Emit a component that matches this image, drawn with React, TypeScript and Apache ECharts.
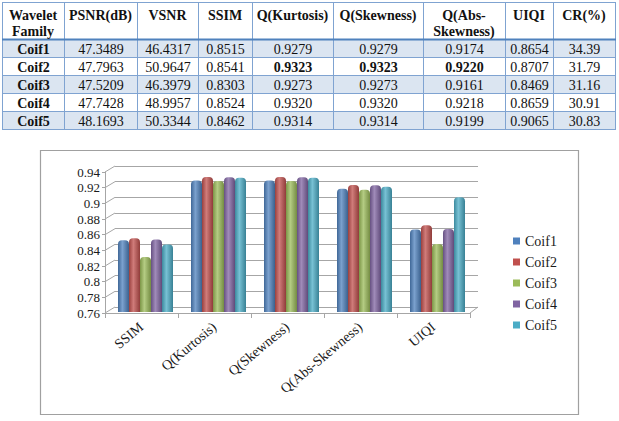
import React, { useEffect, useRef } from 'react';
import * as echarts from 'echarts';

// ---------- data ----------
const categories = ['SSIM', 'Q(Kurtosis)', 'Q(Skewness)', 'Q(Abs-Skewness)', 'UIQI'];
const coifNames = ['Coif1', 'Coif2', 'Coif3', 'Coif4', 'Coif5'];
const psnr = [47.3489, 47.7963, 47.5209, 47.7428, 48.1693];
const vsnr = [46.4317, 50.9647, 46.3979, 48.9957, 50.3344];
const ssim = [0.8515, 0.8541, 0.8303, 0.8524, 0.8462];
const qKurtosis = [0.9279, 0.9323, 0.9273, 0.932, 0.9314];
const qSkewness = [0.9279, 0.9323, 0.9273, 0.932, 0.9314];
const qAbsSkewness = [0.9174, 0.922, 0.9161, 0.9218, 0.9199];
const uiqi = [0.8654, 0.8707, 0.8469, 0.8659, 0.9065];
const cr = [34.39, 31.79, 31.16, 30.91, 30.83];
const tableHeaders = ['Wavelet\nFamily', 'PSNR(dB)', 'VSNR', 'SSIM', 'Q(Kurtosis)', 'Q(Skewness)', 'Q(Abs-\nSkewness)', 'UIQI', 'CR(%)'];
const boldCells = [[1, 4], [1, 5], [1, 6]]; // [row, col]
const yMin = 0.76;
const yMax = 0.94;
const yStep = 0.02;
const yTicks = [0.76, 0.78, 0.8, 0.82, 0.84, 0.86, 0.88, 0.9, 0.92, 0.94];

// ---------- styles ----------
const colors = ['#4f81bd', '#c0504d', '#9bbb59', '#8064a2', '#4bacc6'];
const SERIF = 'Liberation Serif';
const colX = [2, 64, 137, 198, 252, 333, 423, 505, 553, 615];
const rowY = [2, 39, 57, 75, 93, 111, 129];

function mix(hex: string, target: number, t: number) {
  const n = parseInt(hex.slice(1), 16);
  const r = (n >> 16) & 255, g = (n >> 8) & 255, b = n & 255;
  const f = (c: number) => Math.round(c + (target - c) * t);
  return `rgb(${f(r)},${f(g)},${f(b)})`;
}

function barGradient(hex: string) {
  return new echarts.graphic.LinearGradient(0, 0, 1, 0, [
    { offset: 0, color: mix(hex, 0, 0.2) },
    { offset: 0.4, color: mix(hex, 255, 0.25) },
    { offset: 1, color: mix(hex, 0, 0.25) },
  ]);
}

function textStyle(text: string, size: number, bold: boolean, align: string, vAlign: string) {
  return {
    text, fill: '#111', fontFamily: SERIF, fontSize: size,
    ...(bold ? { fontWeight: 'bold' } : {}),
    textAlign: align, textVerticalAlign: vAlign, align, verticalAlign: vAlign,
  };
}

function buildTable() {
  const els: any[] = [];
  const columns = [
    coifNames,
    psnr.map((v) => v.toFixed(4)),
    vsnr.map((v) => v.toFixed(4)),
    ssim.map((v) => v.toFixed(4)),
    qKurtosis.map((v) => v.toFixed(4)),
    qSkewness.map((v) => v.toFixed(4)),
    qAbsSkewness.map((v) => v.toFixed(4)),
    uiqi.map((v) => v.toFixed(4)),
    cr.map((v) => v.toFixed(2)),
  ];
  for (let r = 0; r < coifNames.length; r++) {
    els.push({
      type: 'rect', silent: true,
      shape: { x: colX[0], y: rowY[r + 1], width: colX[colX.length - 1] - colX[0], height: rowY[r + 2] - rowY[r + 1] },
      style: { fill: r % 2 === 0 ? '#dbe5f1' : '#ffffff' },
    });
  }
  for (let i = 0; i < colX.length; i++) {
    els.push({
      type: 'line', silent: true,
      shape: { x1: colX[i] + 0.5, y1: rowY[0], x2: colX[i] + 0.5, y2: rowY[rowY.length - 1] },
      style: { stroke: '#7fa3d1', lineWidth: 1 },
    });
  }
  for (let j = 0; j < rowY.length; j++) {
    els.push({
      type: 'line', silent: true,
      shape: { x1: colX[0], y1: rowY[j] + 0.5, x2: colX[colX.length - 1] + 1, y2: rowY[j] + 0.5 },
      style: { stroke: j === 1 ? '#4f81bd' : '#7fa3d1', lineWidth: j === 1 ? 2 : 1 },
    });
  }
  tableHeaders.forEach((h, c) => {
    els.push({
      type: 'text', silent: true,
      x: (colX[c] + colX[c + 1]) / 2, y: 7,
      style: { ...textStyle(h, 14, true, 'center', 'top'), lineHeight: 16 },
    });
  });
  columns.forEach((col, c) => {
    col.forEach((txt, r) => {
      const bold = c === 0 || boldCells.some(([br, bc]) => br === r && bc === c);
      els.push({
        type: 'text', silent: true,
        x: (colX[c] + colX[c + 1]) / 2 + 0.5, y: (rowY[r + 1] + rowY[r + 2]) / 2 + 1,
        style: textStyle(txt, 14, bold, 'center', 'middle'),
      });
    });
  });
  return els;
}

export default function App() {
  const ref = useRef<HTMLDivElement>(null);
  useEffect(() => {
    if (!ref.current) return;
    const chart = echarts.init(ref.current, undefined, { renderer: 'svg' });
    const perCoif = coifNames.map((_, i) => [ssim[i], qKurtosis[i], qSkewness[i], qAbsSkewness[i], uiqi[i]]);
    const gridLine = '#a6a6a6';
    const option: any = {
      animation: false,
      backgroundColor: '#ffffff',
      textStyle: { fontFamily: SERIF },
      graphic: [
        {
          type: 'rect', silent: true, z: -10,
          shape: { x: 40.5, y: 150.5, width: 538, height: 264 },
          style: { fill: '#ffffff', stroke: '#a0a0a0', lineWidth: 1.2 },
        },
        ...buildTable(),
      ],
      grid: [
        { left: 105, top: 172, width: 365, height: 141 },
        { left: 115, top: 166, width: 363, height: 141 },
        { left: 109, top: 171, width: 365, height: 141 },
      ],
      legend: {
        orient: 'vertical', left: 508, top: 228,
        itemWidth: 7, itemHeight: 7, itemGap: 5, icon: 'rect',
        textStyle: { fontFamily: SERIF, fontSize: 14, lineHeight: 16, color: '#1a1a1a' },
        data: coifNames.map((n, i) => ({ name: n, itemStyle: { color: colors[i] } })),
      },
      xAxis: [
        {
          gridIndex: 0, type: 'category', data: categories, boundaryGap: true,
          axisLine: { show: true, lineStyle: { color: gridLine } },
          axisTick: { show: true, length: 5, alignWithLabel: false, lineStyle: { color: gridLine } },
          axisLabel: { rotate: 40, margin: 12, interval: 0, fontFamily: SERIF, fontSize: 14, color: '#1a1a1a' },
        },
        { gridIndex: 1, type: 'category', data: categories, show: false },
        { gridIndex: 2, type: 'category', data: categories, show: false },
      ],
      yAxis: [
        {
          gridIndex: 0, type: 'value', min: yMin, max: yMax, interval: yStep,
          axisLine: { show: true, lineStyle: { color: gridLine } },
          axisTick: { show: true, length: 3, lineStyle: { color: gridLine } },
          splitLine: { show: false },
          axisLabel: {
            margin: 5, fontFamily: SERIF, fontSize: 13, color: '#1a1a1a',
            formatter: (v: number) => String(parseFloat(v.toFixed(2))),
          },
        },
        {
          gridIndex: 1, type: 'value', min: yMin, max: yMax, interval: yStep,
          axisLine: { show: false }, axisTick: { show: false }, axisLabel: { show: false },
          splitLine: { show: true, lineStyle: { color: gridLine, width: 1 } },
        },
        { gridIndex: 2, type: 'value', min: yMin, max: yMax, interval: yStep, show: false, splitLine: { show: false } },
      ],
      series: [
        {
          type: 'custom', name: 'walls', xAxisIndex: 0, yAxisIndex: 0, silent: true,
          data: yTicks.map((v) => [0, v]),
          encode: { x: 0, y: 1 },
          renderItem: (params: any, api: any) => {
            const cs = params.coordSys;
            const y = api.coord([0, api.value(1)])[1];
            const children: any[] = [
              { type: 'line', shape: { x1: cs.x, y1: y, x2: cs.x + 10, y2: y - 6 }, style: { stroke: gridLine, lineWidth: 1 } },
            ];
            if (params.dataIndex === 0) {
              children.push({
                type: 'line',
                shape: { x1: cs.x + cs.width, y1: y, x2: cs.x + cs.width + 8, y2: y - 6 },
                style: { stroke: gridLine, lineWidth: 1 },
              });
            }
            return { type: 'group', children };
          },
        },
        ...coifNames.map((name, i) => ({
          type: 'bar', name, xAxisIndex: 2, yAxisIndex: 2,
          data: perCoif[i],
          barWidth: 11, barGap: '0%',
          itemStyle: { color: barGradient(colors[i]), borderRadius: [4, 4, 0, 0] },
        })),
      ],
    };
    chart.setOption(option);
    return () => chart.dispose();
  }, []);
  return <div ref={ref} style={{ position: 'absolute', left: 0, top: 0, width: 619, height: 421 }} />;
}
